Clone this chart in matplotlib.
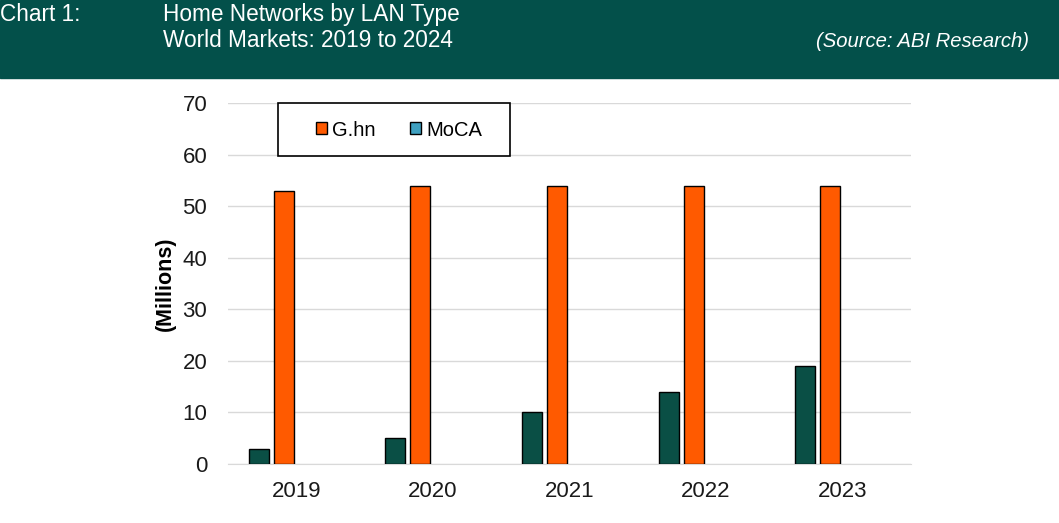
import numpy as np
import matplotlib
matplotlib.use('Agg')
import matplotlib.pyplot as plt
from matplotlib.patches import Rectangle, Patch

years = ['2019', '2020', '2021', '2022', '2023']
moca = [3, 5, 10, 14, 19]
ghn = [53, 54, 54, 54, 54]
empty_a = [0, 0, 0, 0, 0]
empty_b = [0, 0, 0, 0, 0]

header_green = '#03504A'
moca_green = '#0A4F45'
ghn_orange = '#FF5A00'
moca_legend = '#3FA0C0'

plt.rcParams['font.family'] = ['Liberation Sans', 'DejaVu Sans']

W, H = 1059., 523.
fig = plt.figure(figsize=(10.59, 5.23), dpi=100)

# header band
fig.patches.append(Rectangle((0, 1 - 78 / H), 1, 78 / H, transform=fig.transFigure,
                             color=header_green, zorder=0))
fig.text(0.0, 1 - 21 / H, 'Chart 1:', color='white', fontsize=16.3, va='baseline', ha='left')
fig.text(163 / W, 1 - 21 / H, 'Home Networks by LAN Type', color='white', fontsize=16.3,
         va='baseline', ha='left')
fig.text(163 / W, 1 - 47 / H, 'World Markets: 2019 to 2024', color='white', fontsize=16.3,
         va='baseline', ha='left')
fig.text(1029 / W, 1 - 47 / H, '(Source: ABI Research)', color='white', fontsize=14.6,
         style='italic', va='baseline', ha='right')

ax = fig.add_axes([228 / W, 1 - 464 / H, 683 / W, 361 / H])

x = np.arange(len(years))
w = 0.147
step = 0.183
ax.bar(x - 1.5 * step, moca, w, color=moca_green, edgecolor='black', linewidth=1, zorder=3)
ax.bar(x - 0.5 * step, ghn, w, color=ghn_orange, edgecolor='black', linewidth=1, zorder=3)
ax.bar(x + 0.5 * step, empty_a, w, color='none', zorder=3)
ax.bar(x + 1.5 * step, empty_b, w, color='none', zorder=3)

ax.set_xlim(-0.5, len(years) - 0.5)
ax.set_ylim(0, 70)
ax.set_yticks(np.arange(0, 71, 10))
ax.set_xticks(x)
ax.set_xticklabels(years)
ax.tick_params(axis='both', length=0, labelsize=16, colors='#1a1a1a')
ax.tick_params(axis='x', pad=12)
ax.tick_params(axis='y', pad=15)
ax.yaxis.grid(True, color='#D9D9D9', linewidth=1, zorder=0)
ax.set_axisbelow(True)
for s in ['top', 'right', 'left']:
    ax.spines[s].set_visible(False)
ax.spines['bottom'].set_color('#D9D9D9')
ax.set_ylabel('(Millions)', fontsize=15.5, fontweight='bold')
ax.yaxis.set_label_coords(-0.076, 0.5)

# legend frame drawn separately so the padding can match
ax.add_patch(Rectangle(((278 - 228) / 683., (464 - 156) / 361.), 232 / 683., 53 / 361.,
                       transform=ax.transAxes, facecolor='white', edgecolor='black',
                       linewidth=1.2, zorder=5, clip_on=False))
handles = [Patch(facecolor=ghn_orange, edgecolor='black', label='G.hn'),
           Patch(facecolor=moca_legend, edgecolor='black', label='MoCA')]
leg = ax.legend(handles=handles, loc='center left',
                bbox_to_anchor=((316 - 228) / 683., (464 - 130) / 361.), ncol=2,
                fontsize=14.5, frameon=False, borderpad=0, borderaxespad=0,
                handlelength=0.55, handleheight=0.55, handletextpad=0.25,
                columnspacing=1.7)
leg.set_zorder(6)

fig.savefig('out.png', dpi=100)
